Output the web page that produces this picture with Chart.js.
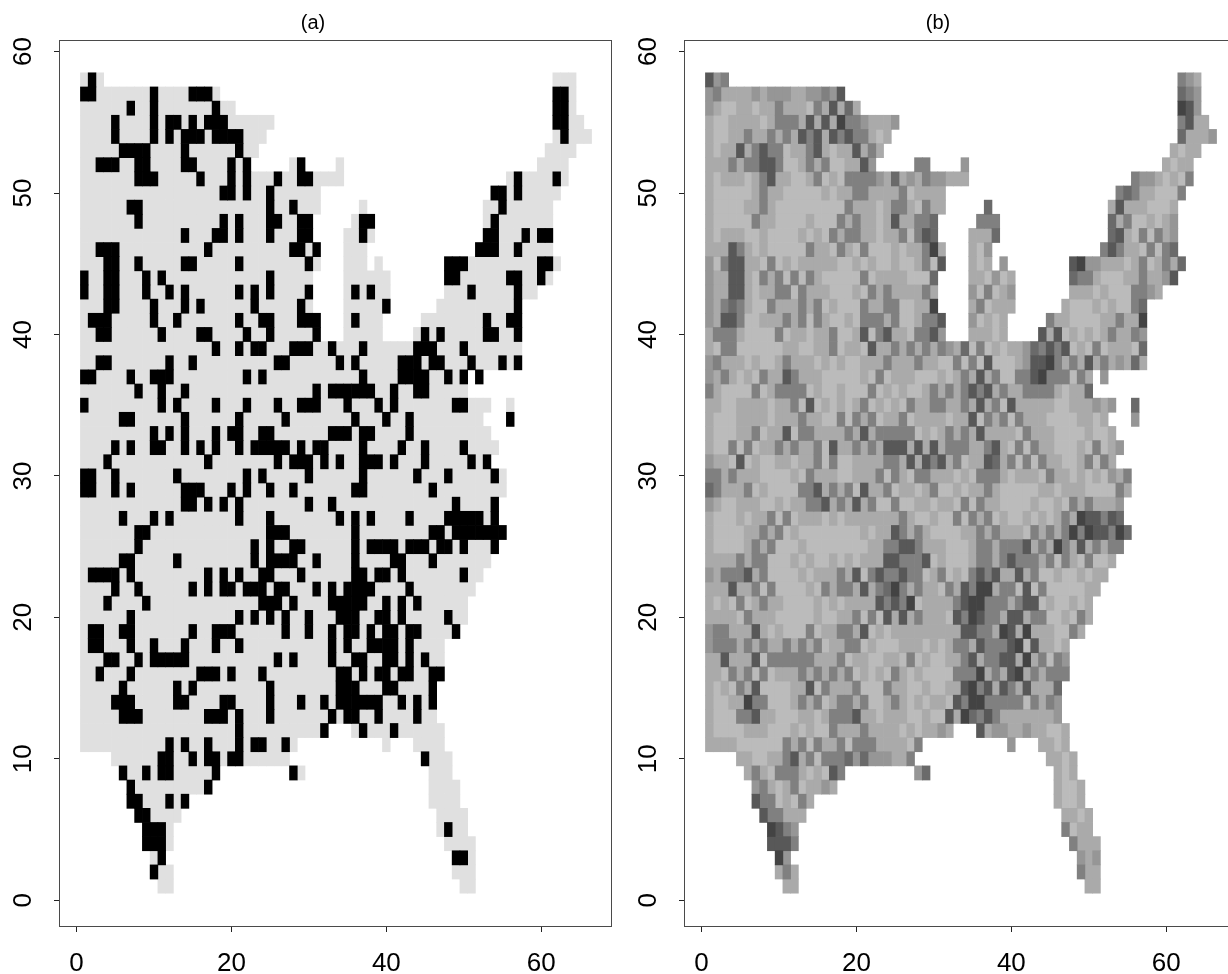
<!DOCTYPE html>
<html>
<head>
<meta charset="utf-8">
<script src="https://cdn.jsdelivr.net/npm/chart.js@4"></script>
<style>
html,body{margin:0;padding:0;background:#fff;overflow:hidden;width:1228px;height:974px}
canvas{position:absolute;top:0}
#dbg{position:absolute;left:70px;top:880px;font:11px monospace;color:red;width:1100px;z-index:5}
</style>
</head>
<body>
<canvas id="a" width="626" height="974" style="left:0"></canvas>
<canvas id="b" width="626" height="974" style="left:625px"></canvas>
<div id="dbg"></div>
<script>
const panelTitles = ['(a)', '(b)'];
const xTickValues = [0, 20, 40, 60];
const yTickValues = [0, 10, 20, 30, 40, 50, 60];
const topRow = 58;

// Cells of the map, panel (a): columns covered on each row, row 58 first
const maskRows = [
'1-3 62-64','1-18 62-64','1-20 62-64','1-25 62-65','1-24 62-66','1-23 61-64','1-22 28-29 34 60-63','1-34 56-63',
'1-31 54-62','1-31 37 53-61','1-30 36-38 53-61','1-30 35-38 53-61','1-31 35-37 52-61','1-31 35-37 39 48-62',
'1-30 35-40 48-61','1-30 35-40 48-59','1-30 35-40 47-57','1-31 35-39 45-57','1-31 35-39 44-57','1-57','1-57',
'1-50 52','1-50','1-53 56','1-52 56','1-53','1-54','1-53','1-55','1-55','1-54','1-54','1-55','1-54','1-53','1-52',
'1-51','1-50','1-50','1-49','1-47','1-47','1-47','1-46','1-46','1-46','1-32 36-47','1-28 40 44-47','5-27 45-48',
'6-18 28-29 46-48','7-17 46-49','7-14 46-49','8-13 47-50','9-12 47-50','9-12 48-51','10-11 49-51','10-12 49-51','11-12 50-51'
];
// Black cells of panel (a), row 58 first
const blackRows = [
'2','1-2 10 15-17 62-63','7 10 18 62-63','5 10 12-13 15 17-19 62-63','5 10 12 14-16 18-21 63','6-9 14 21',
'3-5 8-9 14-15 20 22 29','8-10 16 20 22 26 29-30 57 62','19-20 22 25 54-55 57','7-8 25 28 55',
'8 19 21 25-26 29-30 37-38 54','14 18-19 21 25 29-30 37 53-54 58 60-61','3-5 17 28-29 31 52-54 57',
'4-5 8 14-15 21 30 48-50 60-61','1 4-5 9 11 25 48-49 56-57 60','1 4-5 9 12 14 21 23 25 30 36 38 51 57',
'4-5 10 14 16 23 29 40 57','2-4 10 13 21 24-25 29-31 36 53 56-57','3-4 11 16-17 22 25 31 45 47 53-54 57',
'18 21 23-24 28-30 33 37 44-46 50','3-4 12 15 26-27 34 36 42-44 46-47 51 55 57','1-2 7 10-12 22 24 37 42-45 48 50 52',
'8 11 14 31 33-38 41 44-45','1 11 13 18 22 26 29-31 35 39 41 49-50','6-7 14 21 27 36 40 43 56',
'10 12 14 18 20-21 24-25 33-35 37-38 43','5 7 10-11 14 16 18 21 23-27 29 31-32 37 42 45 50',
'4 17 26 28-30 32 34 37-39 41 45 51 53','1-2 5 13 22 24 30 37 44 48 54','1-2 5 7 14-16 20 22 25 28 36-37 46',
'14-15 17 19 21 30 33 49 54','6 10 12 21 25 34 36 38 43 48-52 54','8-9 25-27 36 46-47 49-55',
'8 23 25 28-29 36 38-41 43-45 47-48 50 54','6-7 13 23 25-28 31 36 41-42 46','2-5 7 17 19 21 24-25 29 36-37 39-40 42 50',
'5 8 15 17 19-20 22-24 26-27 31 33 35-38 43','4 9 24-26 28 33-37 40 42 44','7 21 23 25 27 30 34-36 39-40 42 48',
'2-3 6-7 15 18-20 27 30 33 35-36 38 40-41 43-44 49','2-3 7 10 14 18 21 33 35 38-41 43',
'4-5 8 10-14 26 28 33 36-37 40-41 43 45','3 7 16-18 20 24 34-35 37 39-40 42-43 46-47','6 13 15 25 34-36 40-41 46',
'5-7 13-14 19-20 25 29 32 34-39 42 44 46','6-8 17-19 21 25 33 35-36 39 44','21 32 37 41','12 14 17 21 23-24 27',
'11-12 15 17-18 20-21 45','6 9 11-12 18 28','7 17','7-8 12 14','8-9','9-11 48','9-11','11 49-50','10',''
];
// Grey level of each cell of panel (b), row 58 first: "startColumn:levels"
const shadeRows = [
'1:254 62:456',
'1:546666565556655452 62:345',
'1:56776676646667462636 62:125',
'1:6776666764446262614456665 62:4266',
'1:677664664646242624244676 62:36665',
'1:67662642447664267662646 61:6766',
'1:6664644224776464776625 28:44 34:5 60:6766',
'1:6766676426677647674444563656455666 56:45567674',
'1:6777776466_7777767664_4666647666_6 54:434667774',
'1:6777766467_7777777746_66764467466 37:3 53:626667776',
'1:6777774667_7776777464_6676266443 36:444 53:364776765',
'1:6766677677_7767674644_6676647423 35:6663 53:326747465',
'1:6662467677_7774667467_47776766416 35:675 52:4246674743',
'1:5742266747_6766666776_76776776472 35:676 39:5 48:215566676476463',
'1:5662267464_7474677777_4766667773 35:667576 48:34467776646652',
'1:5662267664_4746667776_7464666646 35:574765 48:666767774456',
'1:5643467746_6646476777_4664477661 35:647666 47:67776767743',
'1:5622477666_4647467767_4446477644_2 35:57676 45:4667777664661',
'1:6444677774_7667664776_27426674425 35:66676 44:26276767646645',
'1:6744777777_6677664766_7266464646_4563747_6766534242_7674766673',
'1:5466676776_4666767677_6664666466_7747472_7776522146_4626465636',
'1:5646767466_2466677777_6747666777_6764626_4774421444_746 52:5',
'1:4677774764_4447677677_7476767764_6464242_6466444467663',
'1:6677666676_6472767676_4767674664_4664626_4726666677_666565 56:3',
'1:6777666676_6646677474_6476647666_6766274_6474666777_76676 56:5',
'1:6777664766_2744666646_2644444767_6464626_6667466677_776776',
'1:6774747664_6466472664_6462226262_6444664_2674746677_7674765',
'1:5667276776_6766474776_6664462624_2647662_3647474667_764746',
'1:4464666777_7674666776_6647467446_6676744_4676667466_76767564',
'1:3466647677_7744264647_2664766764_7767664_6777776676_66777746',
'1:5677666776_7664426462_6477477667_6674746_6777767767_4646665',
'1:6777676647_4766676766_6666646776_7747464_7677676764_6122423',
'1:6777766464_7677777777_6766246467_7776646_4666746464_14122413',
'1:6777764647_7767777777_7664422466_6777644_6444264614_6264644',
'1:6666464477_7676776767_6662244427_6777644_6424446474_674776',
'1:5644426477_7767666462_7424424476_4767424_2662647767_76766',
'1:6662664747_7776746446_2643146466_7462411_6447274777_7766',
'1:6767476466_7777676766_6624241766_6642114_4464227677_676',
'1:6666746667_7777677664_7472626466_6724124_4622644776_746',
'1:5446662676_7774766446_2767666666_6662244612_616667746',
'1:5444646466_4646476644_7677766676_7644624442_1726676',
'1:6626662744_4444666476_6776674767_7664264422_6164745',
'1:6674647476_6646464647_6767467677_7744416462_1646444',
'1:6767462777_7662746664_7774667767_7662142624_626663',
'1:6776614477_7646476446_4776467676_6724114444_474645',
'1:6777442667_7766764442_6676667767_7261342466_666665',
'1:6777766677_7676774666_4666676766_56 36:265566566776',
'1:6666777777_4647466474_44666674 40:5 44:6676',
'5:667766_4264744435_3555664 45:6676',
'6:64674_44676724 28:53 46:676',
'7:5467_6476656 46:6776',
'7:2447_6746 46:6776',
'8:244666 47:6676',
'9:1245 47:4766',
'9:2224 48:4666',
'10:15 49:565',
'10:646 49:466',
'11:66 50:66'
];
const levelColors = {1:'#434343',2:'#585858',3:'#6a6a6a',4:'#808080',5:'#969696',6:'#aaaaaa',7:'#bbbbbb'};
const coverColor = '#e0e0e0', blackColor = '#000000';

function expandSpans(s){
  const out=[];
  s.split(' ').filter(Boolean).forEach(t=>{
    const [a,b]=t.split('-').map(Number);
    for(let c=a;c<=(b||a);c++) out.push(c);
  });
  return out;
}
function cell(col,row){ return {x:col,y:[row-0.5,row+0.5]}; }

const aCover=[], aBlack=[];
maskRows.forEach((s,i)=>expandSpans(s).forEach(c=>aCover.push(cell(c,topRow-i))));
blackRows.forEach((s,i)=>expandSpans(s).forEach(c=>aBlack.push(cell(c,topRow-i))));

const levelCells={1:[],2:[],3:[],4:[],5:[],6:[],7:[]};
const dbg=[];
shadeRows.forEach((s,i)=>{
  const cols=[];
  s.split(' ').filter(Boolean).forEach(seg=>{
    const [st,lvRaw]=seg.split(':');
    const lv=lvRaw.replace(/_/g,'');
    [...lv].forEach((d,k)=>{const c=+st+k;cols.push(c);levelCells[d].push(cell(c,topRow-i));});
  });
  const m=expandSpans(maskRows[i]);
  if(cols.join()!==m.join()){
    dbg.push((topRow-i)+':n'+cols.length+'/'+m.length);
  }
});
document.getElementById('dbg').textContent=dbg.join('  ');

const framePlugin={id:'frame',
  afterLayout(c){ if(c.titleBlock){ c.titleBlock.right=c.width; } },
  afterDatasetsDraw(c){
    const {left,top,right,bottom}=c.chartArea,ctx=c.ctx;
    ctx.save();ctx.strokeStyle='#4a4a4a';ctx.lineWidth=1;
    ctx.strokeRect(Math.round(left)-0.5,Math.round(top)+0.5,right-left,bottom-top);
    ctx.restore();
  }};
const tickFont={family:'"Liberation Sans",Arial,sans-serif',size:26};

function makeChart(id,title,datasets){
  return new Chart(document.getElementById(id),{
    type:'bar',
    data:{datasets:datasets.map(d=>({label:d.label,data:d.data,backgroundColor:d.color,borderWidth:0,
      grouped:false,barPercentage:1,categoryPercentage:1}))},
    plugins:[framePlugin],
    options:{
      responsive:false,animation:false,events:[],
      layout:{padding:{left:0,right:14,top:0,bottom:0}},
      plugins:{
        legend:{display:false},tooltip:{enabled:false},
        title:{display:true,text:title,color:'#000',font:{family:'"Liberation Sans",Arial,sans-serif',size:20,weight:'normal'},padding:{top:11,bottom:5}}
      },
      scales:{
        x:{type:'linear',min:-2.14,max:69.14,offset:false,
          afterBuildTicks:s=>{s.ticks=xTickValues.map(v=>({value:v}));},
          afterFit:s=>{s.height=48;},
          border:{display:false},
          grid:{offset:false,drawOnChartArea:false,drawTicks:true,tickLength:6,tickColor:'#222'},
          ticks:{color:'#000',font:tickFont,padding:16,maxRotation:0,autoSkip:false}},
        y:{type:'linear',min:-1.82,max:60.82,
          afterBuildTicks:s=>{s.ticks=yTickValues.map(v=>({value:v}));},
          afterFit:s=>{s.width=60;},
          border:{display:false},
          grid:{drawOnChartArea:false,drawTicks:true,tickLength:6,tickColor:'#222'},
          ticks:{color:'#000',font:tickFont,padding:16,minRotation:90,maxRotation:90,crossAlign:'center',autoSkip:false}}
      }
    }
  });
}
makeChart('a',panelTitles[0],[
  {label:'selected',data:aBlack,color:blackColor},
  {label:'region',data:aCover,color:coverColor}
]);
makeChart('b',panelTitles[1],[1,2,3,4,5,6,7].map(l=>({label:'level '+l,data:levelCells[l],color:levelColors[l]})));
</script>
</body>
</html>
